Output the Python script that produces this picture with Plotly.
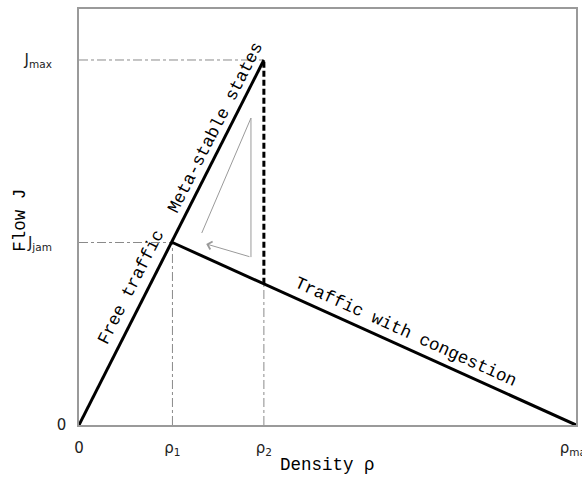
import plotly.graph_objects as go

# ---- data ----
rho_vals = [0.0, 0.188, 0.372, 1.0]          # 0, rho1, rho2, rho_max
rho_labels = ["0", "ρ<sub>1</sub>", "ρ<sub>2</sub>", "ρ<sub>max</sub>"]
J_vals = [0.0, 0.5, 1.0]                     # 0, J_jam, J_max
J_labels = ["0", "J<sub>jam</sub>&nbsp;&nbsp;&nbsp;", "J<sub>max</sub>&nbsp;&nbsp;&nbsp;"]
hyst_x = [0.247, 0.346, 0.346]
hyst_y = [0.526, 0.841, 0.460]
arrow_tip = [0.256, 0.496]

rho0, rho1, rho2, rhomax = rho_vals
J0, Jjam, Jmax = J_vals
J_at_rho2 = Jjam * (rhomax - rho2) / (rhomax - rho1)

fig = go.Figure()
thin = dict(color="#8a8a8a", width=1, dash="dashdot")
# helper dash-dot lines
fig.add_trace(go.Scatter(x=[rho0, rho2], y=[Jmax, Jmax], mode="lines", line=thin))
fig.add_trace(go.Scatter(x=[rho0, rho1], y=[Jjam, Jjam], mode="lines", line=thin))
fig.add_trace(go.Scatter(x=[rho1, rho1], y=[J0, Jjam], mode="lines", line=thin))
fig.add_trace(go.Scatter(x=[rho2, rho2], y=[J0, J_at_rho2], mode="lines", line=thin))
# main branches
fig.add_trace(go.Scatter(x=[rho0, rho2], y=[J0, Jmax], mode="lines", line=dict(color="black", width=3)))
fig.add_trace(go.Scatter(x=[rho1, rhomax], y=[Jjam, J0], mode="lines", line=dict(color="black", width=3)))
fig.add_trace(go.Scatter(x=[rho2, rho2], y=[J_at_rho2, Jmax], mode="lines",
                         line=dict(color="black", width=3, dash="6px,3px")))
# hysteresis path
fig.add_trace(go.Scatter(x=hyst_x, y=hyst_y, mode="lines", line=dict(color="#9a9a9a", width=1)))

fig.add_annotation(x=arrow_tip[0], y=arrow_tip[1], ax=hyst_x[-1], ay=hyst_y[-1],
                   xref="x", yref="y", axref="x", ayref="y", text="",
                   showarrow=True, arrowhead=4, arrowsize=1.6, arrowwidth=1, arrowcolor="#9a9a9a")

lab_font = dict(family="Liberation Mono", size=17.5, color="black")
fig.add_annotation(x=0.105, y=0.378, text="Free traffic", textangle=-63, showarrow=False, font=lab_font)
fig.add_annotation(x=0.274, y=0.814, text="Meta-stable states", textangle=-63, showarrow=False, font=lab_font)
fig.add_annotation(x=0.658, y=0.255, text="Traffic with congestion", textangle=24.4, showarrow=False, font=lab_font)

# axis titles
fig.add_annotation(x=-0.119, y=0.493, xref="paper", yref="paper", text="Flow J", textangle=-90,
                   xanchor="center", yanchor="middle", showarrow=False, font=lab_font)
fig.add_annotation(x=0.499, y=-0.095, xref="paper", yref="paper", text="Density ρ",
                   xanchor="center", yanchor="middle", showarrow=False, font=lab_font)

tick_font = dict(family="DejaVu Sans", size=15, color="#222")
fig.update_xaxes(range=[0, 1.0], tickvals=rho_vals, ticktext=rho_labels, showgrid=False, zeroline=False,
                 showline=True, mirror=True, linecolor="#9a9a9a", linewidth=1.5, ticks="",
                 ticklabelstandoff=8, tickfont=tick_font, ticklabeloverflow="allow", automargin=False)
fig.update_yaxes(range=[0, 1.1397], tickvals=J_vals, ticktext=J_labels, showgrid=False, zeroline=False,
                 showline=True, mirror=True, linecolor="#9a9a9a", linewidth=1.5, ticks="",
                 ticklabelstandoff=8, tickfont=tick_font, ticklabeloverflow="allow", automargin=False)
fig.update_layout(width=582, height=481, margin=dict(l=79, r=6, t=9, b=56),
                  plot_bgcolor="white", paper_bgcolor="white", showlegend=False)
fig.write_html("out.html")
